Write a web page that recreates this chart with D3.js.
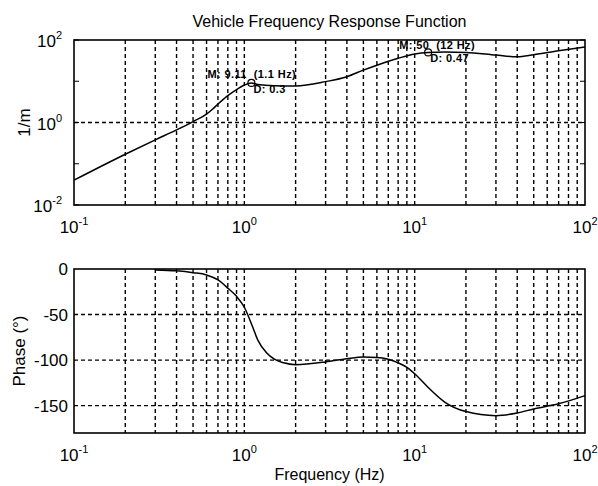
<!DOCTYPE html>
<html>
<head>
<meta charset="utf-8">
<script src="https://cdn.jsdelivr.net/npm/d3@7"></script>
<style>
  body { margin: 0; background: #fff; }
  text { font-family: Arial, "Liberation Sans", sans-serif; fill: #000; }
  text.note { white-space: pre; }
</style>
</head>
<body>
<script>
// frequency response
var magFreq = [0.1, 0.2, 0.3, 0.4, 0.5, 0.6, 0.65, 0.7, 0.8, 0.9, 1.0, 1.1, 1.2, 1.5, 2, 3, 4, 5, 6, 8, 10, 12, 15, 20, 30, 40, 50, 70, 100]
var magVal  = [0.04, 0.17, 0.38, 0.66, 1.05, 1.6, 2.1, 2.8, 4.5, 6.3, 8.1, 9.11, 8.3, 7.8, 7.7, 9.8, 12.9, 18.6, 24.5, 36, 46, 50, 51, 50, 43, 39, 44, 55, 68]

var phaseFreq = [0.3, 0.4, 0.5, 0.6, 0.7, 0.8, 0.9, 1.0, 1.1, 1.2, 1.35, 1.5, 1.7, 2, 3, 4, 5, 6, 7, 8, 9, 10, 12, 15, 20, 30, 40, 50, 70, 100]
var phaseVal  = [-1, -2, -4, -6.5, -12, -21, -30, -42, -60, -78, -92, -99, -103, -105, -102, -98.4, -96.6, -97, -99, -103, -108, -115, -130, -146, -156.5, -161, -158, -153.6, -148, -139]

var markers = [
    {f: 1.1, m: 9.11, label: "M: 9.11  (1.1 Hz)", d: "D: 0.3"},
    {f: 12, m: 50, label: "M: 50  (12 Hz)", d: "D: 0.47"}
]

var xTicks = [0.1, 1, 10, 100]
var magTicks = [0.01, 1, 100]
var magMinor = [0.1, 10]
var phaseTicks = [0, -50, -100, -150]

var width = 598, height = 486
var left = 74, right = 585
var topPanel = {y0: 40, y1: 205}
var botPanel = {y0: 269, y1: 433}

var svg = d3.select("body").append("svg")
    .attr("width", width)
    .attr("height", height)

var x = d3.scaleLog().domain([0.1, 100]).range([left, right])
var yMag = d3.scaleLog().domain([0.01, 100]).range([topPanel.y1, topPanel.y0])
var yPh = d3.scaleLinear().domain([-180, 0]).range([botPanel.y1, botPanel.y0])

// all 2..9 minor frequencies inside the range
var minorFreq = []
;[0.1, 1, 10].forEach(function(dec) {
    for (var k = 2; k <= 9; k++) minorFreq.push(dec * k)
})
var gridFreq = minorFreq.concat([1, 10])

function superLabel(g, base, exp, xPos, yPos, anchor) {
    var t = g.append("text")
        .attr("x", xPos)
        .attr("y", yPos)
        .attr("text-anchor", anchor)
        .attr("font-size", "17px")
    t.append("tspan").text(base)
    t.append("tspan").attr("dy", -8).attr("font-size", "11px").text(exp)
    return t
}

function drawPanel(panel, yScale, yGrid) {
    var g = svg.append("g")
    var dash = "4,3"

    /* vertical grid */
    g.selectAll("line.vg")
        .data(gridFreq)
        .enter()
        .append("line")
        .attr("x1", function(d) { return x(d) })
        .attr("x2", function(d) { return x(d) })
        .attr("y1", panel.y0)
        .attr("y2", panel.y1)
        .attr("stroke", "#000")
        .attr("stroke-width", 1.4)
        .attr("stroke-dasharray", dash)

    /* horizontal grid */
    g.selectAll("line.hg")
        .data(yGrid)
        .enter()
        .append("line")
        .attr("x1", left)
        .attr("x2", right)
        .attr("y1", function(d) { return yScale(d) })
        .attr("y2", function(d) { return yScale(d) })
        .attr("stroke", "#000")
        .attr("stroke-width", 1.4)
        .attr("stroke-dasharray", dash)

    /* frame */
    g.append("rect")
        .attr("x", left)
        .attr("y", panel.y0)
        .attr("width", right - left)
        .attr("height", panel.y1 - panel.y0)
        .attr("fill", "none")
        .attr("stroke", "#000")
        .attr("stroke-width", 1.6)

    /* x tick labels */
    xTicks.forEach(function(d) {
        var e = Math.round(Math.log10(d))
        superLabel(g, "10", String(e), x(d), panel.y1 + 28, "middle")
    })
    return g
}

var gTop = drawPanel(topPanel, yMag, [1])
var gBot = drawPanel(botPanel, yPh, [-50, -100, -150])

/* small inside ticks on magnitude axis */
magMinor.concat(magTicks).forEach(function(d) {
    gTop.append("line").attr("x1", left).attr("x2", left + 5)
        .attr("y1", yMag(d)).attr("y2", yMag(d)).attr("stroke", "#000")
    gTop.append("line").attr("x1", right - 5).attr("x2", right)
        .attr("y1", yMag(d)).attr("y2", yMag(d)).attr("stroke", "#000")
})

magTicks.forEach(function(d) {
    var e = Math.round(Math.log10(d))
    superLabel(gTop, "10", String(e), left - 12, yMag(d) + 7, "end")
})

phaseTicks.forEach(function(d) {
    gBot.append("text")
        .attr("x", left - 6)
        .attr("y", yPh(d) + 6)
        .attr("text-anchor", "end")
        .attr("font-size", "17px")
        .text(d)
})

/* curves */
var magLine = d3.line()
    .x(function(d) { return x(d[0]) })
    .y(function(d) { return yMag(d[1]) })
    .curve(d3.curveMonotoneX)

var phLine = d3.line()
    .x(function(d) { return x(d[0]) })
    .y(function(d) { return yPh(d[1]) })
    .curve(d3.curveMonotoneX)

svg.append("path")
    .attr("d", magLine(d3.zip(magFreq, magVal)))
    .attr("fill", "none")
    .attr("stroke", "#000")
    .attr("stroke-width", 1.5)

svg.append("path")
    .attr("d", phLine(d3.zip(phaseFreq, phaseVal)))
    .attr("fill", "none")
    .attr("stroke", "#000")
    .attr("stroke-width", 1.5)

/* markers with annotations; the first label sits further left */
markers.forEach(function(m, i) {
    var cx = x(m.f), cy = yMag(m.m)
    svg.append("circle")
        .attr("cx", cx).attr("cy", cy).attr("r", 3.5)
        .attr("fill", "none").attr("stroke", "#000").attr("stroke-width", 1.2)
    svg.append("text")
        .attr("class", "note")
        .attr("x", cx + (i == 0 ? -44 : -29)).attr("y", cy + (i == 0 ? -5 : -3))
        .attr("font-size", "11px")
        .attr("font-weight", "bold")
        .attr("letter-spacing", "0.4px")
        .text(m.label)
    svg.append("text")
        .attr("class", "note")
        .attr("x", cx + 2).attr("y", cy + 10)
        .attr("font-size", "11px")
        .attr("font-weight", "bold")
        .attr("letter-spacing", "0.4px")
        .text(m.d)
})

/* titles */
svg.append("text")
    .attr("x", (left + right) / 2)
    .attr("y", 27)
    .attr("text-anchor", "middle")
    .attr("font-size", "16px")
    .text("Vehicle Frequency Response Function")

svg.append("text")
    .attr("x", (left + right) / 2)
    .attr("y", 480)
    .attr("text-anchor", "middle")
    .attr("font-size", "16px")
    .text("Frequency (Hz)")

svg.append("text")
    .attr("transform", "translate(30," + ((topPanel.y0 + topPanel.y1) / 2) + ") rotate(-90)")
    .attr("text-anchor", "middle")
    .attr("font-size", "17px")
    .text("1/m")

svg.append("text")
    .attr("transform", "translate(25," + ((botPanel.y0 + botPanel.y1) / 2) + ") rotate(-90)")
    .attr("text-anchor", "middle")
    .attr("font-size", "17px")
    .text("Phase (°)")
</script>
</body>
</html>
